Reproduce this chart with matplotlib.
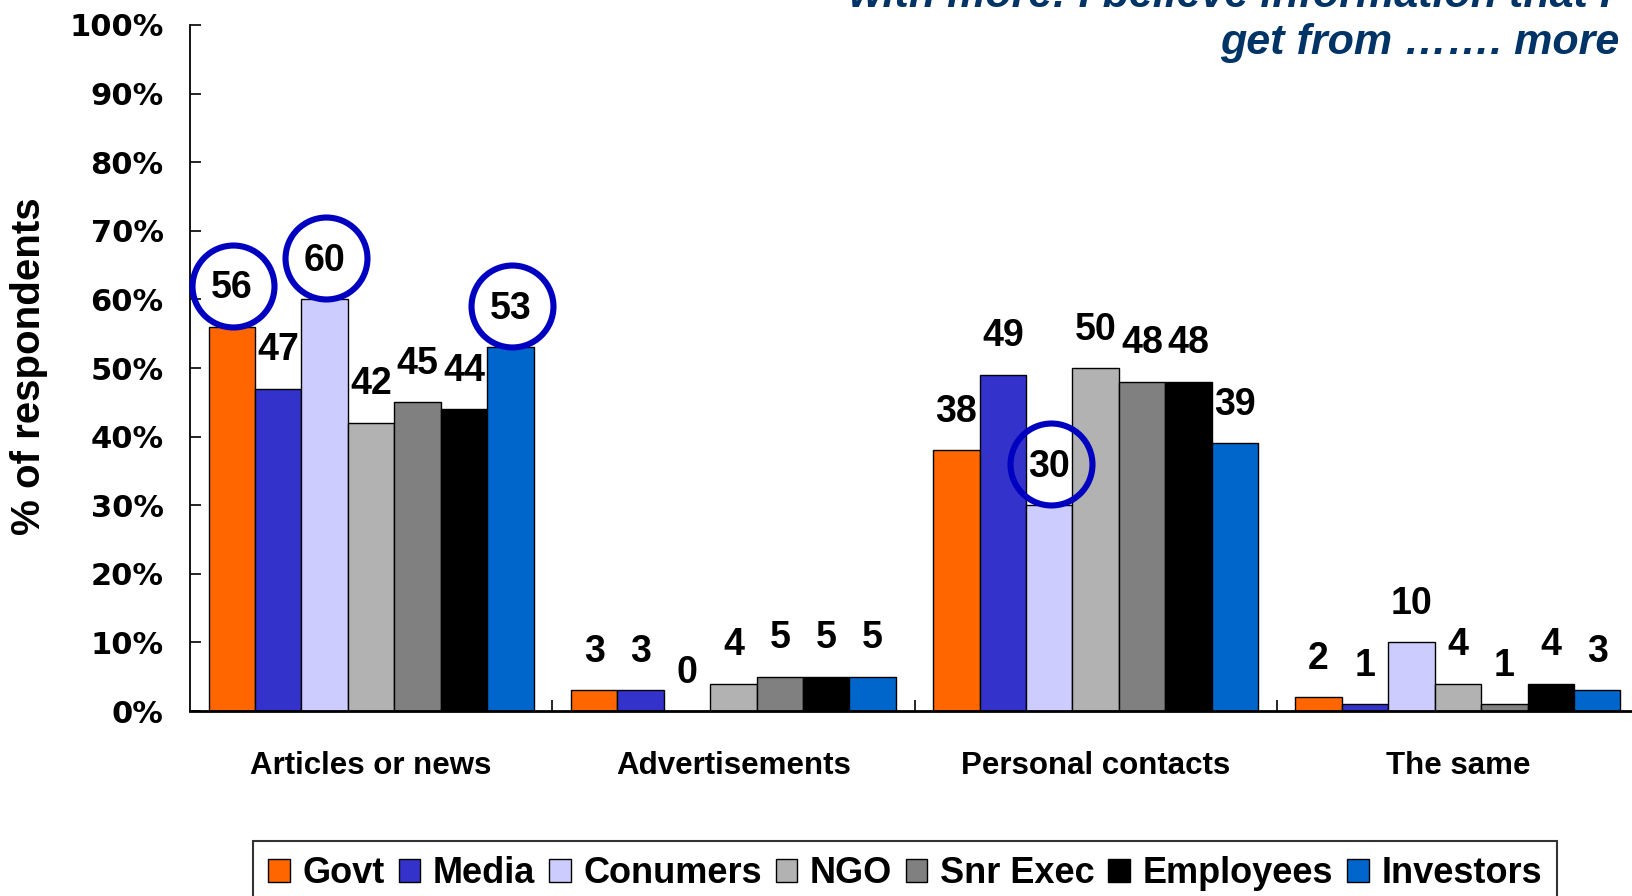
import matplotlib
matplotlib.use("Agg")
import matplotlib.pyplot as plt
import matplotlib.transforms as mtransforms
import numpy as np

categories = ["Articles or news", "Advertisements", "Personal contacts", "The same"]
series_names = ["Govt", "Media", "Conumers", "NGO", "Snr Exec", "Employees", "Investors"]
govt = [56, 3, 38, 2]
media = [47, 3, 49, 1]
consumers = [60, 0, 30, 10]
ngo = [42, 4, 50, 4]
snr_exec = [45, 5, 48, 1]
employees = [44, 5, 48, 4]
investors = [53, 5, 39, 3]
series_values = [govt, media, consumers, ngo, snr_exec, employees, investors]
colors = ["#FF6600", "#3333CC", "#CCCCFF", "#B2B2B2", "#808080", "#000000", "#0066CC"]
# (category index, series index) of circled values
highlighted = [(0, 0), (0, 2), (0, 6), (2, 2)]
yticks = [0, 10, 20, 30, 40, 50, 60, 70, 80, 90, 100]
ytick_labels = ["0%", "10%", "20%", "30%", "40%", "50%", "60%", "70%", "80%", "90%", "100%"]
title_lines = ["with more: I believe information that I", "get from \u2026\u2026. more"]

W, H, DPI = 1632, 896, 100
fig = plt.figure(figsize=(W / DPI, H / DPI), dpi=DPI)
ax_left = 190 / W
ax_right = 1639 / W
ax_bottom = 1 - 711 / H
ax_top = 1 - 25 / H
ax = fig.add_axes([ax_left, ax_bottom, ax_right - ax_left, ax_top - ax_bottom])

n = len(series_names)
group_frac = 0.897
bw = group_frac / n
x = np.arange(len(categories))
for i, (name, vals, c) in enumerate(zip(series_names, series_values, colors)):
    xs = x - group_frac / 2 + bw * (i + 0.5)
    ax.bar(xs, vals, width=bw, color=c, edgecolor="black", linewidth=1.0, label=name, zorder=2)

lab_off = mtransforms.offset_copy(ax.transData, fig=fig, x=0, y=27.7, units="points")
circ_off = mtransforms.offset_copy(ax.transData, fig=fig, x=1, y=29.5, units="points")
for i, vals in enumerate(series_values):
    xs = x - group_frac / 2 + bw * (i + 0.5)
    for j, v in enumerate(vals):
        ax.text(xs[j], v, str(v), transform=lab_off, ha="center", va="center",
                fontsize=27, fontweight="bold", family="Liberation Sans", zorder=4)
        if (j, i) in highlighted:
            ax.plot([xs[j]], [v], marker="o", markersize=59, markerfacecolor="none",
                    markeredgecolor="#0000C0", markeredgewidth=4.4, transform=circ_off,
                    zorder=5, clip_on=False)

ax.set_xlim(-0.5, len(categories) - 0.5)
ax.set_ylim(0, 100)
ax.set_yticks(yticks)
ax.set_yticklabels(ytick_labels, fontsize=22, fontweight="bold", family="DejaVu Sans")
ax.tick_params(axis="y", direction="in", length=8, width=1.2, pad=19)
ax.set_xticks(x)
ax.set_xticklabels(categories, fontsize=22.5, fontweight="bold", family="Liberation Sans")
ax.tick_params(axis="x", which="major", length=0, pad=29)
ax.set_xticks(np.append(x[1:] - 0.5, len(categories) - 0.5), minor=True)
ax.tick_params(axis="x", which="minor", direction="in", length=8, width=1.2)
for s in ["top", "right"]:
    ax.spines[s].set_visible(False)
ax.spines["left"].set_linewidth(1.3)
ax.spines["bottom"].set_linewidth(2.0)

fig.text(29 / W, 1 - 366 / H, "% of respondents", rotation=90, ha="center", va="center",
         fontsize=29, fontweight="bold", family="Liberation Sans")

fig.text(1612 / W, 1 - 7 / H, title_lines[0], ha="right", va="baseline", fontsize=31,
         fontweight="bold", fontstyle="italic", color="#003366", family="Liberation Sans")
fig.text(1619 / W, 1 - 54 / H, title_lines[1], ha="right", va="baseline", fontsize=31,
         fontweight="bold", fontstyle="italic", color="#003366", family="Liberation Sans")

leg = fig.legend(loc="upper left", bbox_to_anchor=(253 / W, 1 - 841 / H),
                 bbox_transform=fig.transFigure, ncol=7, frameon=True, fancybox=False,
                 edgecolor="black", borderaxespad=0, borderpad=0.42,
                 handlelength=0.6, handleheight=0.62, handletextpad=0.35,
                 columnspacing=0.38, prop={"family": "Liberation Sans", "weight": "bold", "size": 26})
leg.get_frame().set_linewidth(1.5)

fig.savefig("out.png", dpi=DPI)
